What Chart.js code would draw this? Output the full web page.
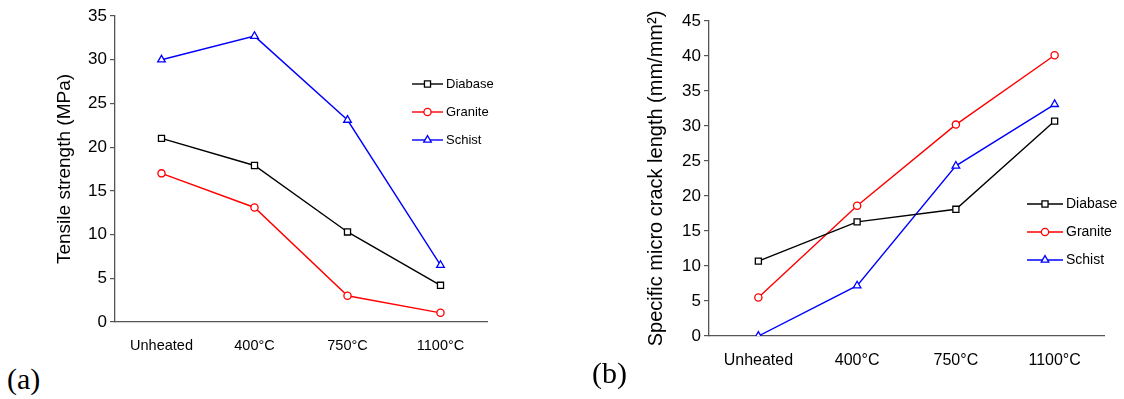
<!DOCTYPE html>
<html lang="en">
<head>
    <meta charset="UTF-8">
    <title>Tensile strength and micro crack length</title>
    <script src="https://cdn.jsdelivr.net/npm/chart.js"></script>
    <style>
        body {
            margin: 0;
            background: #fff;
            width: 1124px;
            height: 399px;
            position: relative;
            overflow: hidden;
        }

        .chart-box {
            position: absolute;
            top: 0;
        }

        .panel-label {
            position: absolute;
            font-family: 'Liberation Serif', 'Times New Roman', serif;
            font-size: 30px;
            color: #000;
        }
    </style>
</head>
<body>
    <div class="chart-box" style="left:0; width:520px; height:360px;">
        <canvas id="chartA"></canvas>
    </div>
    <div class="chart-box" style="left:560px; width:564px; height:372px;">
        <canvas id="chartB"></canvas>
    </div>
    <div class="panel-label" style="left:7px; top:362px;">(a)</div>
    <div class="panel-label" style="left:592px; top:356px;">(b)</div>

    <script>
        // Data
        const categories = ['Unheated', '400°C', '750°C', '1100°C'];
        const seriesNames = ['Diabase', 'Granite', 'Schist'];

        // (a) tensile strength, MPa
        const tensileDiabase = [21.0, 17.9, 10.3, 4.2];
        const tensileGranite = [17.0, 13.1, 3.0, 1.05];
        const tensileSchist = [30.0, 32.7, 23.1, 6.5];

        // (b) specific micro crack length, mm/mm2
        const crackDiabase = [10.7, 16.3, 18.1, 30.7];
        const crackGranite = [5.5, 18.6, 30.2, 40.1];
        const crackSchist = [0.0, 7.2, 24.3, 33.1];

        const textFont = "'Liberation Sans', Arial, sans-serif";

        const styles = [
            { color: '#000000', point: 'rect', radius: 4.3 },
            { color: '#ff0000', point: 'circle', radius: 3.6 },
            { color: '#0000ff', point: 'triangle', radius: 4.4 }
        ];

        function makeDatasets(values) {
            return values.map((data, i) => ({
                label: seriesNames[i],
                data: data,
                borderColor: styles[i].color,
                backgroundColor: '#ffffff',
                pointBorderColor: styles[i].color,
                pointBackgroundColor: '#ffffff',
                pointStyle: styles[i].point,
                pointRadius: styles[i].radius,
                pointBorderWidth: 1.3,
                borderWidth: 1.4,
                tension: 0
            }));
        }

        // legend with a line segment through the marker, drawn inside the chart
        const lineLegend = {
            id: 'lineLegend',
            afterDraw(chart, args, opts) {
                const ctx = chart.ctx;
                ctx.save();
                ctx.font = opts.fontSize + 'px ' + textFont;
                ctx.textBaseline = 'middle';
                chart.data.datasets.forEach((ds, i) => {
                    const y = opts.y + i * opts.gap;
                    ctx.strokeStyle = ds.borderColor;
                    ctx.lineWidth = 1.4;
                    ctx.beginPath();
                    ctx.moveTo(opts.x, y);
                    ctx.lineTo(opts.x + opts.lineLen, y);
                    ctx.stroke();
                    ctx.fillStyle = '#ffffff';
                    ctx.lineWidth = 1.3;
                    Chart.helpers.drawPoint(ctx, {
                        pointStyle: ds.pointStyle,
                        radius: ds.pointRadius,
                        borderWidth: 1.3
                    }, opts.x + opts.lineLen / 2, y);
                    ctx.fillStyle = '#000';
                    ctx.fillText(ds.label, opts.x + opts.lineLen + 3, y);
                });
                ctx.restore();
            }
        };

        function makeOptions(cfg) {
            return {
                responsive: true,
                maintainAspectRatio: false,
                animation: false,
                layout: { padding: cfg.padding },
                plugins: {
                    legend: { display: false },
                    tooltip: { enabled: false },
                    lineLegend: cfg.legend
                },
                scales: {
                    x: {
                        offset: true,
                        grid: { display: false },
                        border: { display: true, color: '#555', width: 1.3 },
                        ticks: {
                            color: '#000',
                            padding: 7,
                            font: { family: textFont, size: cfg.xSize }
                        },
                        afterFit(scale) { scale.height = cfg.xHeight; }
                    },
                    y: {
                        min: 0,
                        max: cfg.yMax,
                        grid: {
                            display: true,
                            drawOnChartArea: false,
                            drawTicks: true,
                            tickLength: 5,
                            color: '#555',
                            lineWidth: 1.2
                        },
                        border: { display: true, color: '#555', width: 1.3 },
                        ticks: {
                            stepSize: 5,
                            color: '#000',
                            padding: 3,
                            font: { family: textFont, size: cfg.ySize }
                        },
                        title: {
                            display: true,
                            text: cfg.yTitle,
                            color: '#000',
                            padding: 0,
                            font: { family: textFont, size: cfg.titleSize }
                        },
                        afterFit(scale) { scale.width = cfg.yWidth; }
                    }
                }
            };
        }

        new Chart(document.getElementById('chartA'), {
            type: 'line',
            data: {
                labels: categories,
                datasets: makeDatasets([tensileDiabase, tensileGranite, tensileSchist])
            },
            options: makeOptions({
                padding: { left: 53, top: 16, right: 33, bottom: 0 },
                yWidth: 62,
                xHeight: 38,
                yMax: 35,
                xSize: 14.5,
                ySize: 17,
                titleSize: 19,
                yTitle: 'Tensile strength (MPa)',
                legend: { x: 412, y: 84, gap: 28, lineLen: 31, fontSize: 13 }
            }),
            plugins: [lineLegend]
        });

        new Chart(document.getElementById('chartB'), {
            type: 'line',
            data: {
                labels: categories,
                datasets: makeDatasets([crackDiabase, crackGranite, crackSchist])
            },
            options: makeOptions({
                padding: { left: 84, top: 21, right: 20, bottom: 0 },
                yWidth: 65,
                xHeight: 36,
                yMax: 45,
                xSize: 16,
                ySize: 17,
                titleSize: 20,
                yTitle: 'Specific micro crack length (mm/mm²)',
                legend: { x: 467, y: 204, gap: 28, lineLen: 36, fontSize: 14 }
            }),
            plugins: [lineLegend]
        });
    </script>
</body>
</html>
